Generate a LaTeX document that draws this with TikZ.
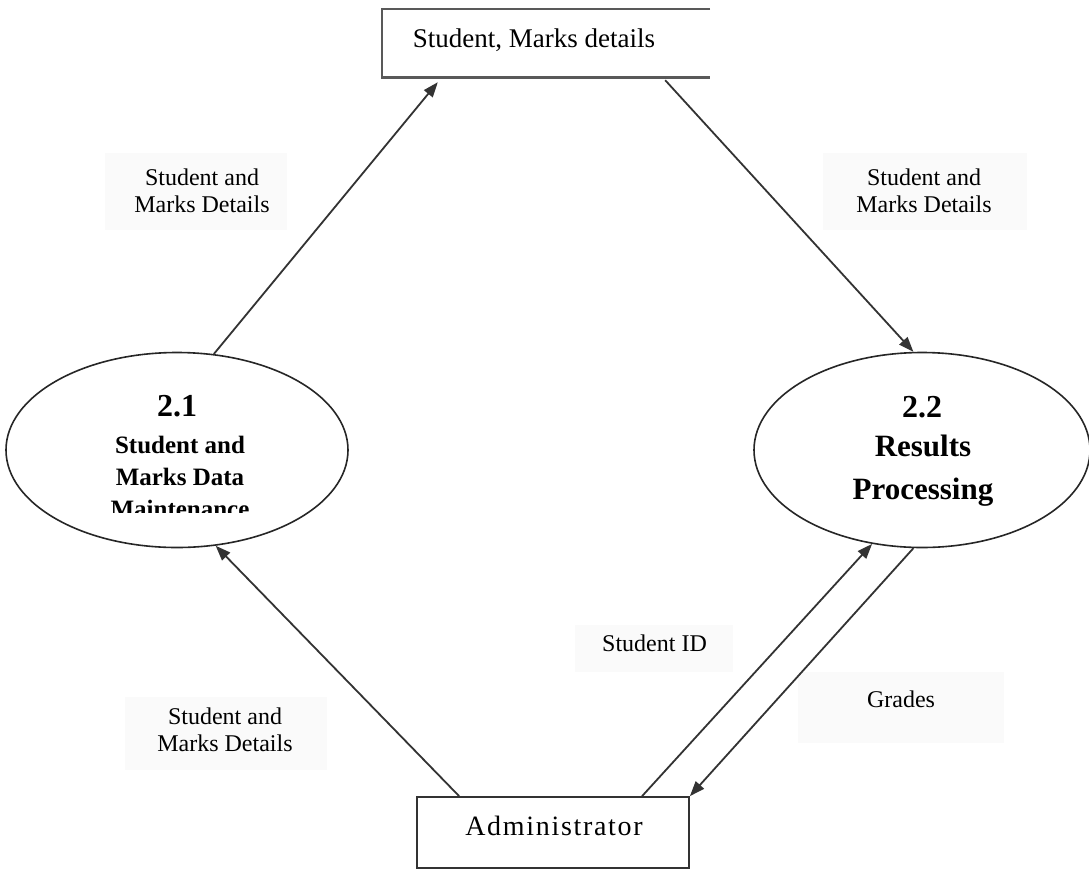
\documentclass[tikz,border=0pt]{standalone}
\usepackage{fontspec}
\setmainfont{Liberation Serif}
\newfontfamily\spacedfont[LetterSpace=6]{Liberation Serif}
\usetikzlibrary{shapes.geometric,arrows.meta,calc}
\begin{document}
\begin{tikzpicture}[x=1pt,y=-1pt,
  proc/.style={draw=black!85, line width=1.6pt, ellipse, minimum height=195pt, inner sep=0pt},
  flow/.style={draw=black!80, line width=1.8pt, -{Triangle[length=15pt,width=11pt]}},
  lbl/.style={font=\fontsize{24}{27}\selectfont, align=center, inner sep=0pt},
  lblbox/.style={fill=black!2},
  boxside/.style={draw=black!65, line width=2.6pt},
  numtxt/.style={font=\bfseries\fontsize{32}{36}\selectfont, inner sep=0pt}
]
\useasboundingbox (0,0) rectangle (1089,871);
\fill[white] (0,0) rectangle (1089,871);

% faint label backgrounds
\fill[lblbox] (105,153) rectangle (287,230);
\fill[lblbox] (823,153) rectangle (1027,230);
\fill[lblbox] (125,697) rectangle (327,770);
\fill[lblbox] (575,625) rectangle (733,672);
\fill[lblbox] (798,672) rectangle (1004,743);

% data store (open on the right)
\node[minimum width=328pt, minimum height=68pt, inner sep=0pt] (store) at (546,43) {};
\draw[boxside] (store.north east) -- (store.north west) -- (store.south west) -- (store.south east);
\node[font=\fontsize{27}{30}\selectfont, inner sep=0pt] (storetxt) at (534,40) {Student, Marks details};

% processes
\node[proc, minimum width=342pt] (e1) at (177,450) {};
\node[proc, minimum width=336pt] (e2) at (922,450) {};
\node[numtxt] (e1num) at (177,406.5) {2.1};
\begin{scope}
  \clip (0,425) rectangle (360,512);
  \node[font=\bfseries\fontsize{25}{32}\selectfont, align=center, inner sep=0pt] (e1txt) at (180,477) {Student and\\Marks Data\\Maintenance};
\end{scope}
\node[numtxt] (e2num) at (922,407.5) {2.2};
\node[font=\bfseries\fontsize{31}{43}\selectfont, align=center, inner sep=0pt] (e2txt) at (923,471) {Results\\Processing};

% external entity
\node[draw=black!80, line width=1.8pt, minimum width=272pt, minimum height=71pt, inner sep=0pt] (admin) at (553,832.5) {};
\node[font=\spacedfont\fontsize{28}{30}\selectfont, inner sep=0pt] (admintxt) at (554,826) {Administrator};

% flows
\draw[flow] (e1.69.6) -- ($(store.south west)+(56,5)$);
\draw[flow] ($(store.south east)+(-45,3)$) -- (e2.95.3);
\draw[flow] ($(admin.north west)+(43,0)$) -- (e1.-68.8);
\draw[flow] ($(admin.north west)+(226,0)$) -- (e2.-118.9);
\draw[flow] (e2.-95.2) -- (admin.north east);

% flow labels
\node[lbl] (l1) at (202,191) {Student and\\Marks Details};
\node[lbl] (l2) at (924,191) {Student and\\Marks Details};
\node[lbl] (l3) at (225,730) {Student and\\Marks Details};
\node[lbl] (l4) at (654.5,643.5) {Student ID};
\node[lbl] (l5) at (901,699) {Grades};
\end{tikzpicture}
\end{document}
